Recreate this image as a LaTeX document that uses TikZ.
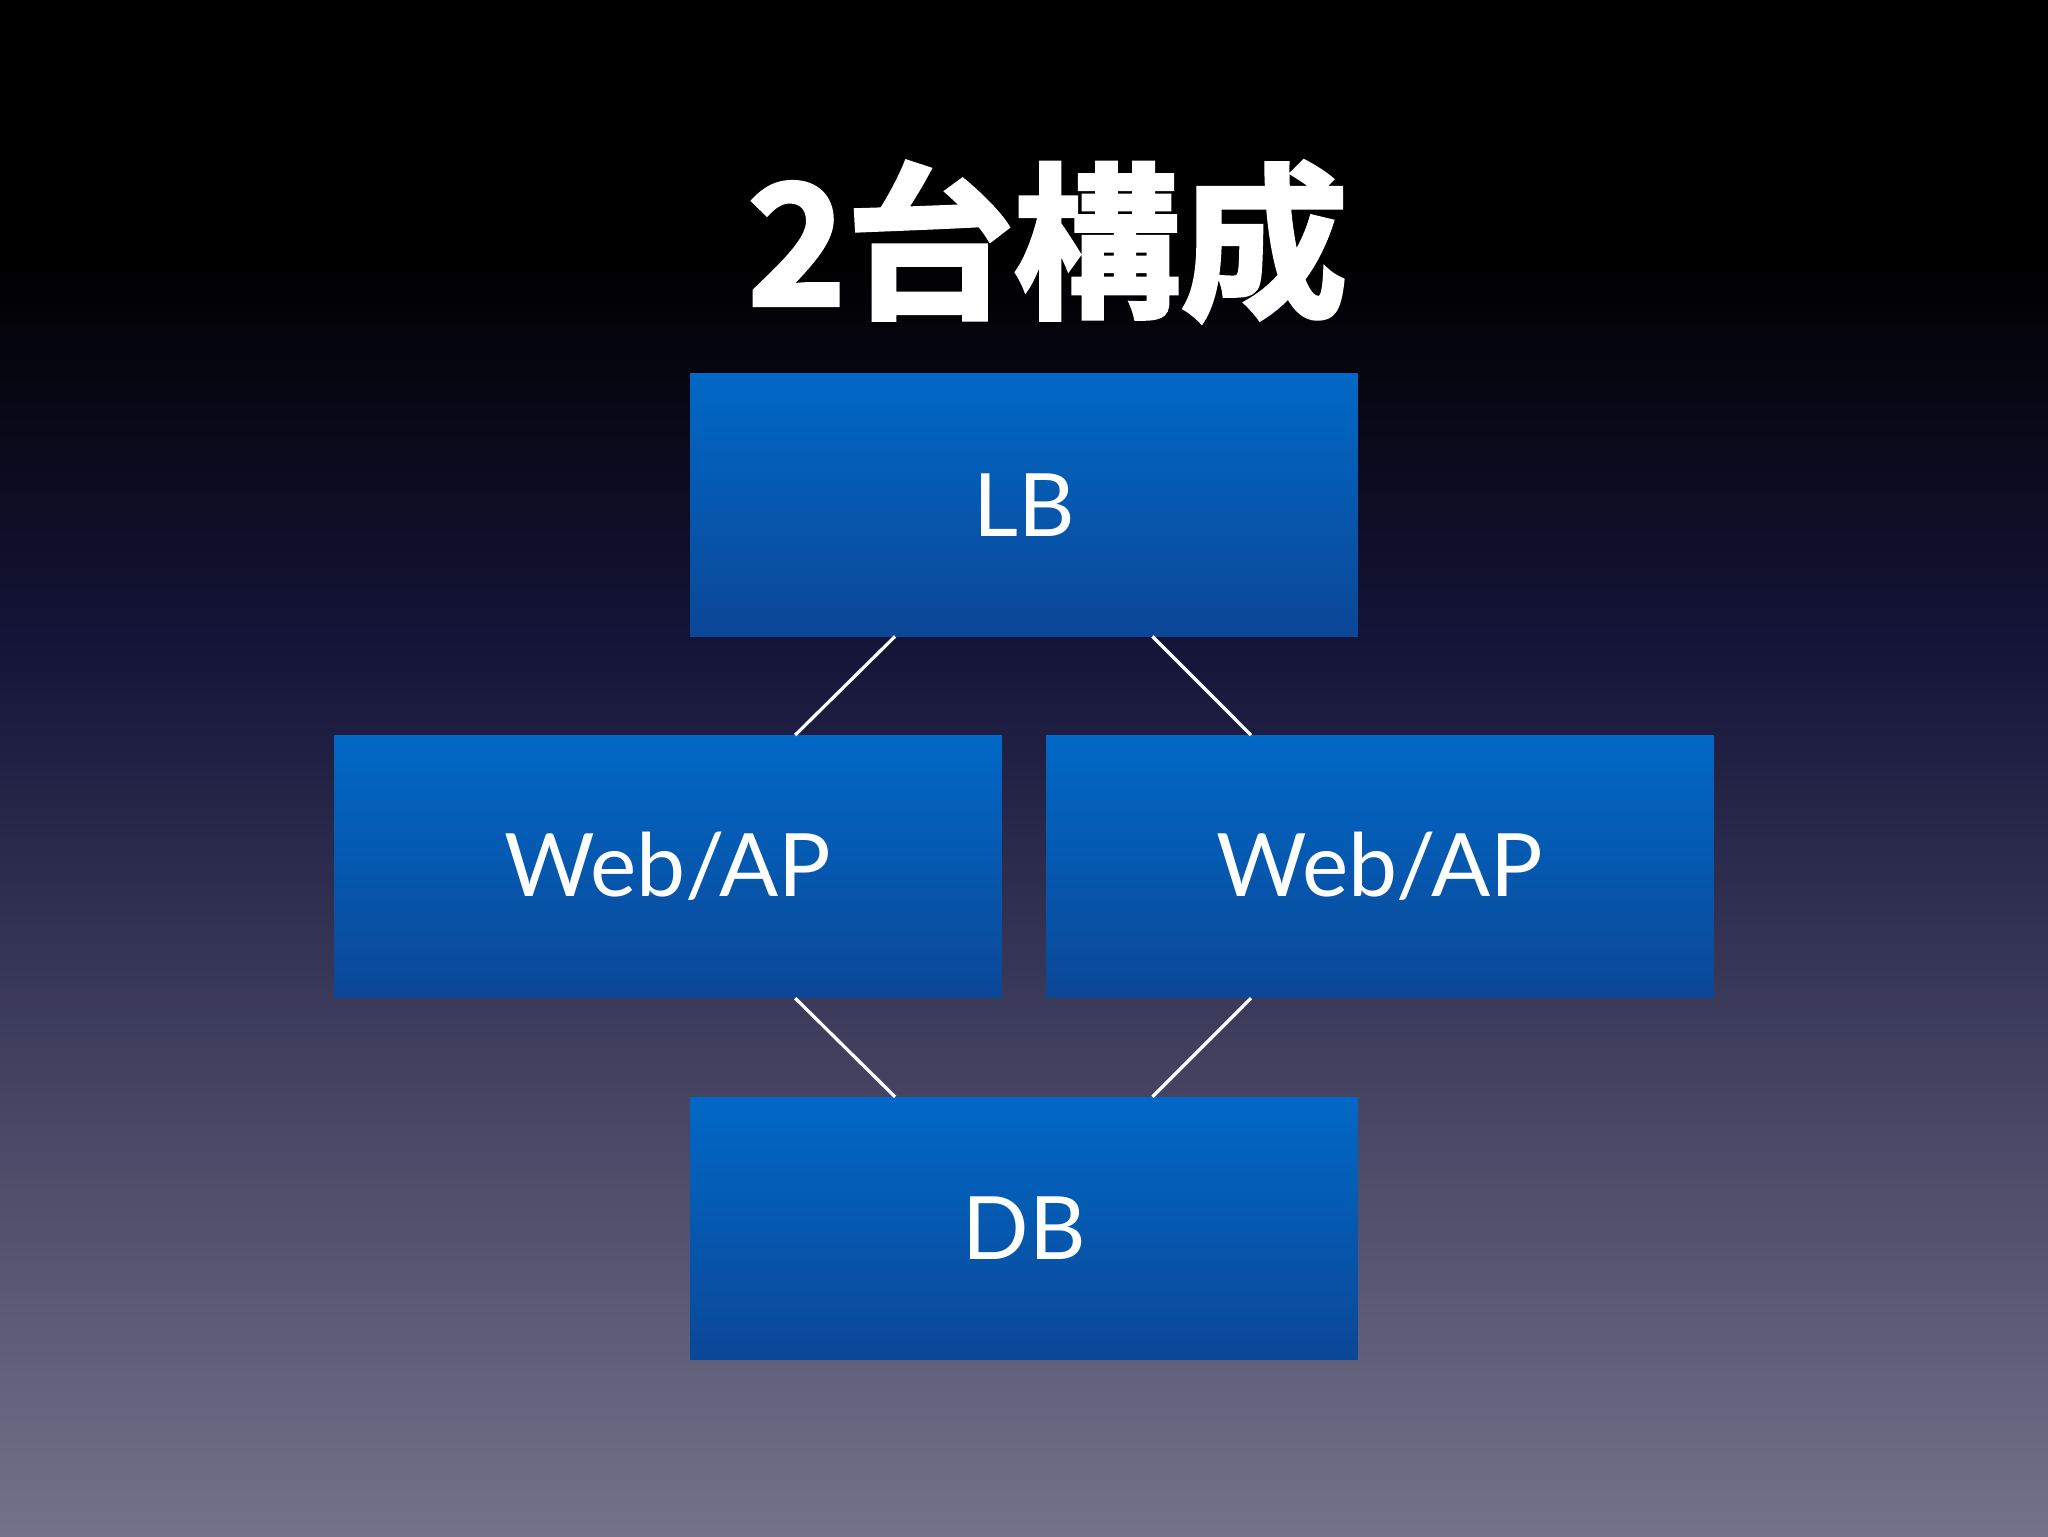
\documentclass[tikz,border=0pt]{standalone}
\usepackage{fontspec}
\setmainfont{Lato}
\newfontfamily\cjk[FakeBold=2.5]{Noto Sans CJK JP Bold}
\usetikzlibrary{calc}
\definecolor{bgtop}{HTML}{000000}
\definecolor{bgmid}{HTML}{15153A}
\definecolor{bgbot}{HTML}{74728A}
\definecolor{boxtop}{HTML}{0068C6}
\definecolor{boxbot}{HTML}{0B4797}
\tikzset{
  srv/.style={minimum width=511pt,minimum height=201pt,inner sep=0pt,
    top color=boxtop,bottom color=boxbot,text=white,font=\fontsize{67}{67}\selectfont},
  link/.style={draw=white,line width=2.5pt}
}
\begin{document}
\begin{tikzpicture}[x=1pt,y=-1pt]
\useasboundingbox (0,0) rectangle (1568,1176);
\fill[bgtop] (0,0) rectangle (1568,200);
\shade[top color=bgtop,bottom color=bgmid] (0,199) rectangle (1568,500);
\shade[top color=bgmid,bottom color=bgbot] (0,499) rectangle (1568,1176);
\node[text=white,font={\cjk\fontsize{128}{128}\selectfont}] (title) at (802,185) {2台構成};
\node[srv] (lb) at (784,386.5) {LB};
\node[srv] (w1) at (511.5,663.5) {Web/AP};
\node[srv] (w2) at (1056.5,663.5) {Web/AP};
\node[srv] (db) at (784,940.5) {DB};
\draw[link] ($(lb.south west)+(157,0)$) -- ($(w1.north west)+(353,0)$);
\draw[link] ($(lb.south west)+(354,0)$) -- ($(w2.north west)+(157,0)$);
\draw[link] ($(w1.south west)+(353,0)$) -- ($(db.north west)+(157,0)$);
\draw[link] ($(w2.south west)+(157,0)$) -- ($(db.north west)+(354,0)$);
\end{tikzpicture}
\end{document}
